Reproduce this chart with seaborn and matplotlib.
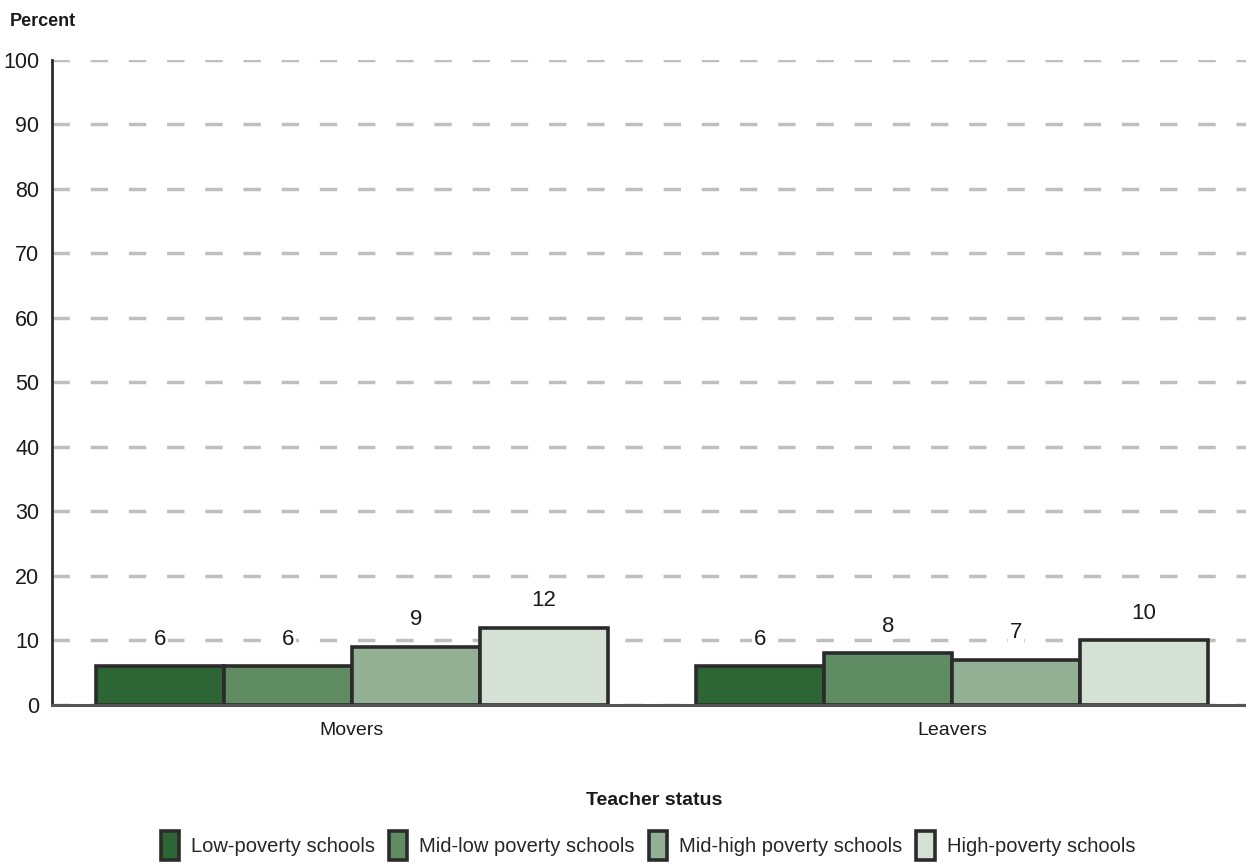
import matplotlib
matplotlib.use("Agg")
import matplotlib.pyplot as plt
import seaborn as sns
import pandas as pd

# Share of teachers by school poverty level and teacher status
statuses = ["Movers", "Leavers"]
poverty_levels = ["Low-poverty schools", "Mid-low poverty schools",
                  "Mid-high poverty schools", "High-poverty schools"]
movers = [6, 6, 9, 12]
leavers = [6, 8, 7, 10]
y_ticks = [0, 10, 20, 30, 40, 50, 60, 70, 80, 90, 100]

palette = ["#2d6535", "#5f8c63", "#93b094", "#d5e1d5"]

rows = []
for lvl, m, l in zip(poverty_levels, movers, leavers):
    rows.append({"status": "Movers", "level": lvl, "pct": m})
    rows.append({"status": "Leavers", "level": lvl, "pct": l})
df = pd.DataFrame(rows)

sns.set_style("white")
FONT = ["Liberation Sans", "DejaVu Sans"]
plt.rcParams["font.family"] = FONT

fig = plt.figure(figsize=(12.46, 8.67), dpi=100)
ax = fig.add_axes([0.0417, 0.1869, 0.9583, 0.7439])

sns.barplot(data=df, x="status", y="pct", hue="level", order=statuses,
            hue_order=poverty_levels, palette=palette, edgecolor="#2b2b2b",
            linewidth=2.6, width=0.853, gap=0, ax=ax, legend=True,
            saturation=1)

ax.set_ylim(0, 100)
ax.set_xlim(-0.5, 1.49)
ax.set_yticks(y_ticks)
ax.yaxis.grid(True, linestyle=(0, (5, 6)), color="#bfbfbf", linewidth=2.5)
ax.set_axisbelow(True)
ax.tick_params(axis="y", length=0, pad=9, labelsize=15.5, labelcolor="#1a1a1a")
ax.tick_params(axis="x", length=0, pad=12, labelsize=14, labelcolor="#1a1a1a")
ax.set_xlabel("")
ax.set_ylabel("")
for s in ["top", "right"]:
    ax.spines[s].set_visible(False)
ax.spines["left"].set_linewidth(2)
ax.spines["left"].set_color("#2b2b2b")
ax.spines["bottom"].set_linewidth(2.2)
ax.spines["bottom"].set_color("#555555")

for cont in ax.containers:
    ax.bar_label(cont, fmt="%d", padding=12, fontsize=16, color="#1a1a1a",
                 bbox=dict(facecolor="white", edgecolor="none", pad=1.5))

fig.text(0.008, 0.975, "Percent", fontsize=13, fontweight="bold",
         ha="left", va="center", color="#1a1a1a")
fig.text(0.525, 0.077, "Teacher status", fontsize=14, fontweight="bold",
         ha="center", va="center", color="#1a1a1a")

handles, labels = ax.get_legend_handles_labels()
ax.get_legend().remove()
fig.legend(handles, labels, loc="center", bbox_to_anchor=(0.52, 0.025),
           ncol=4, frameon=False, fontsize=14.5, handlelength=0.9,
           handleheight=1.8, handletextpad=0.6, columnspacing=0.7)

fig.savefig("out.png", dpi=100)
